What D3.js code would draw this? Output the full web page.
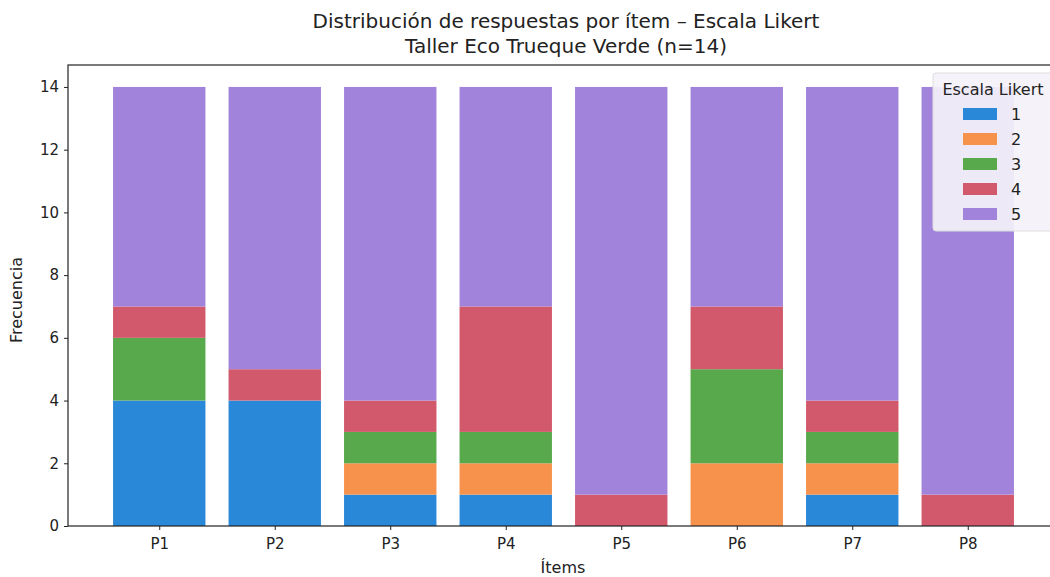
<!DOCTYPE html>
<html><head><meta charset="utf-8">
<script src="https://cdn.jsdelivr.net/npm/d3@7"></script>
<style>body{margin:0;background:#fff;}svg{display:block;font-family:"DejaVu Sans",sans-serif;}</style>
</head><body>
<svg id="c" width="1050" height="577"></svg>
<script>
const items = ["P1","P2","P3","P4","P5","P6","P7","P8"];
const levels = ["1","2","3","4","5"];
const s1 = [4,4,1,1,0,0,1,0];
const s2 = [0,0,1,1,0,2,1,0];
const s3 = [2,0,1,1,0,3,1,0];
const s4 = [1,1,1,4,1,2,1,1];
const s5 = [7,9,10,7,13,7,10,13];
const yTicks = [0,2,4,6,8,10,12,14];
const colors = ["#2a88d8","#f7924c","#58a84c","#d2596b","#a283dc"];

const svg = d3.select("#c");
const L = 68, R = 1059, T = 65, B = 526;
const series = [s1,s2,s3,s4,s5];
const n = items.length;
const x = d3.scaleLinear().domain([-0.79, n-1+0.79]).range([L,R]);
const y = d3.scaleLinear().domain([0,14.7]).range([B,T]);
const bw = 0.8;

const rows = items.map((it,i)=>{const o={item:it}; levels.forEach((l,k)=>o[l]=series[k][i]); return o;});
const stack = d3.stack().keys(levels)(rows);
stack.forEach((layer,k)=>{
  svg.append("g").selectAll("rect").data(layer).join("rect")
    .attr("x",(d,i)=>x(i-bw/2)).attr("width",x(bw)-x(0))
    .attr("y",d=>y(d[1])).attr("height",d=>y(d[0])-y(d[1]))
    .attr("fill",colors[k]);
});

svg.append("rect").attr("x",L).attr("y",T).attr("width",R-L).attr("height",B-T)
  .attr("fill","none").attr("stroke","#222").attr("stroke-width",1.2);

const ya = svg.append("g").attr("transform",`translate(${L},0)`)
  .call(d3.axisLeft(y).tickValues(yTicks).tickSize(4).tickPadding(5));
ya.select(".domain").remove();
ya.selectAll("text").attr("font-size",15).attr("fill","#222").attr("font-family","DejaVu Sans");
ya.selectAll("line").attr("stroke","#222");
const xa = svg.append("g").attr("transform",`translate(0,${B})`)
  .call(d3.axisBottom(x).tickValues(d3.range(n)).tickFormat(i=>items[i]).tickSize(4).tickPadding(8));
xa.select(".domain").remove();
xa.selectAll("text").attr("font-size",15).attr("fill","#222").attr("font-family","DejaVu Sans");
xa.selectAll("line").attr("stroke","#222");

svg.append("text").attr("x",566).attr("y",28).attr("text-anchor","middle").attr("font-size",20).attr("fill","#222")
  .text("Distribución de respuestas por ítem – Escala Likert");
svg.append("text").attr("x",566).attr("y",53).attr("text-anchor","middle").attr("font-size",20).attr("fill","#222")
  .text("Taller Eco Trueque Verde (n=14)");
svg.append("text").attr("x",563).attr("y",573).attr("text-anchor","middle").attr("font-size",16).attr("fill","#222").text("Ítems");
svg.append("text").attr("transform","translate(22,300) rotate(-90)").attr("text-anchor","middle").attr("font-size",16).attr("fill","#222").text("Frecuencia");

const lg = svg.append("g");
lg.append("rect").attr("x",933).attr("y",73).attr("width",130).attr("height",158).attr("rx",3)
  .attr("fill","#f4f2f8").attr("fill-opacity",0.92).attr("stroke","#ddd");
lg.append("text").attr("x",993).attr("y",95).attr("text-anchor","middle").attr("font-size",16).attr("fill","#222").text("Escala Likert");
levels.forEach((l,k)=>{
  const yy = 114 + k*25;
  lg.append("rect").attr("x",963).attr("y",yy-6).attr("width",34).attr("height",12).attr("fill",colors[k]);
  lg.append("text").attr("x",1011).attr("y",yy+6).attr("font-size",16).attr("fill","#222").text(l);
});
</script>
</body></html>
